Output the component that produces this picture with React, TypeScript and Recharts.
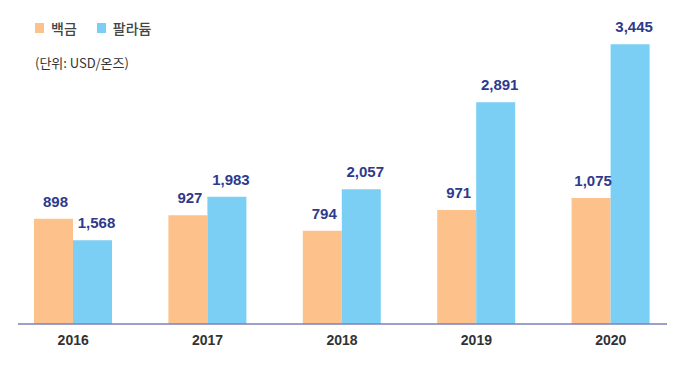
import { Bar, BarChart, LabelList, XAxis, YAxis } from "recharts";

const years = ["2016", "2017", "2018", "2019", "2020"];
const platinum = [898, 927, 794, 971, 1075];
const palladium = [1568, 1983, 2057, 2891, 3445];

const PT_COLOR = "#fdc18c";
const PD_COLOR = "#7bcff4";
const LABEL_COLOR = "#2e3a8c";

const data = years.map((year, i) => ({
  year,
  platinum: platinum[i],
  palladium: palladium[i],
}));

const fmt = (v: any) => Number(v).toLocaleString("en-US");

const numFont = "'Liberation Sans', Arial, sans-serif";
const krFont = "'Noto Sans CJK KR', 'Noto Sans', sans-serif";

const LegendBox = () => (
  <div style={{ position: "absolute", left: 35, top: 17, fontFamily: krFont, color: "#444" }}>
    <div style={{ display: "flex", alignItems: "center", fontSize: 14, fontWeight: 500, height: 22 }}>
      <span style={{ width: 9, height: 10, background: PT_COLOR, marginRight: 7 }} />
      <span style={{ marginRight: 20 }}>백금</span>
      <span style={{ width: 9, height: 10, background: PD_COLOR, marginRight: 7 }} />
      <span>팔라듐</span>
    </div>
    <div style={{ fontSize: 13, marginTop: 14, color: "#333" }}>(단위: USD/온즈)</div>
  </div>
);

export default function App() {
  return (
    <div style={{ position: "absolute", left: 0, top: 0, width: 700, height: 366, background: "#fff" }}>
      <BarChart
        width={700}
        height={366}
        data={data}
        margin={{ top: 24, right: 33, left: 18, bottom: 12 }}
        barCategoryGap={28}
        barGap={0}
      >
        <XAxis
          dataKey="year"
          height={30}
          padding={{ left: -12, right: -11 }}
          axisLine={{ stroke: "#7d80b8", strokeWidth: 1.5 }}
          tickLine={false}
          tickSize={0}
          tickMargin={11}
          tick={{ fill: "#333", fontSize: 14, fontWeight: 700, fontFamily: numFont }}
        />
        <YAxis yAxisId="pt" hide domain={[0, 2557]} />
        <YAxis yAxisId="pd" hide domain={[764, 3640]} allowDataOverflow />
        <Bar yAxisId="pt" dataKey="platinum" fill={PT_COLOR} isAnimationActive={false}>
          <LabelList
            dataKey="platinum"
            position="top"
            offset={12}
            formatter={fmt}
            fill={LABEL_COLOR}
            fontSize={15}
            fontWeight={700}
            fontFamily={numFont}
            dx={2}
          />
        </Bar>
        <Bar yAxisId="pd" dataKey="palladium" fill={PD_COLOR} isAnimationActive={false}>
          <LabelList
            dataKey="palladium"
            position="top"
            offset={12}
            formatter={fmt}
            fill={LABEL_COLOR}
            fontSize={15}
            fontWeight={700}
            fontFamily={numFont}
            dx={4}
          />
        </Bar>
      </BarChart>
      <LegendBox />
    </div>
  );
}
